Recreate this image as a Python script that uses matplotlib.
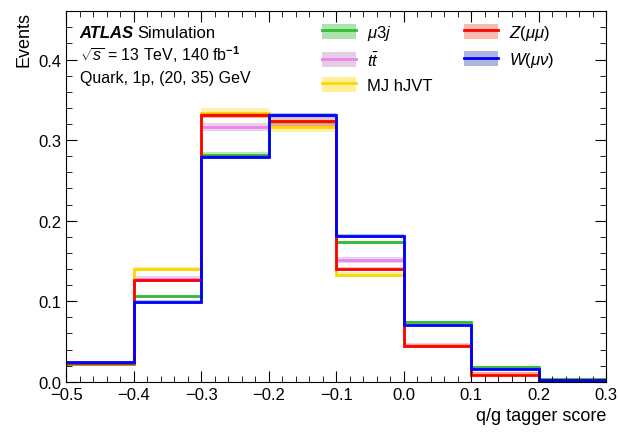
import matplotlib
matplotlib.use("Agg")
import matplotlib.pyplot as plt
import numpy as np
from matplotlib.lines import Line2D
from matplotlib.patches import Patch
from matplotlib.legend_handler import HandlerTuple
from matplotlib.ticker import MultipleLocator

plt.rcParams["font.family"] = ["Liberation Sans", "DejaVu Sans"]
plt.rcParams["mathtext.fontset"] = "custom"
plt.rcParams["mathtext.rm"] = "Liberation Sans"
plt.rcParams["mathtext.it"] = "Liberation Sans:italic"
plt.rcParams["mathtext.bf"] = "Liberation Sans:bold"

# ---- data -------------------------------------------------------------
BIN_EDGES = [-0.5, -0.4, -0.3, -0.2, -0.1, 0.0, 0.1, 0.2, 0.3]

mu3j   = [0.022, 0.106, 0.282, 0.322, 0.173, 0.074, 0.018, 0.004]
ttbar  = [0.023, 0.128, 0.316, 0.319, 0.151, 0.046, 0.011, 0.002]
mj     = [0.023, 0.140, 0.334, 0.316, 0.133, 0.045, 0.010, 0.002]
zmumu  = [0.023, 0.126, 0.331, 0.324, 0.140, 0.045, 0.009, 0.002]
wmunu  = [0.025, 0.099, 0.279, 0.331, 0.181, 0.070, 0.016, 0.002]

mu3j_err  = [0.001, 0.002, 0.003, 0.003, 0.002, 0.001, 0.001, 0.0005]
ttbar_err = [0.001, 0.003, 0.005, 0.005, 0.004, 0.002, 0.001, 0.0005]
mj_err    = [0.001, 0.003, 0.006, 0.006, 0.003, 0.002, 0.001, 0.0005]
zmumu_err = [0.001, 0.002, 0.003, 0.003, 0.002, 0.001, 0.001, 0.0005]
wmunu_err = [0.001, 0.002, 0.003, 0.003, 0.002, 0.001, 0.001, 0.0005]

SAMPLES = [
    (r"$\mu3j$",          mu3j,  mu3j_err,  "#33bb33", "#33bb33"),
    (r"$t\bar{t}$",       ttbar, ttbar_err, "#ee82ee", "#c080c0"),
    ("MJ hJVT",           mj,    mj_err,    "#ffd700", "#ffd700"),
    (r"$Z(\mu\mu)$",      zmumu, zmumu_err, "#ff0000", "#ee5533"),
    (r"$W(\mu\nu)$",      wmunu, wmunu_err, "#0000ff", "#3344aa"),
]

fig = plt.figure(figsize=(6.19, 4.35), dpi=100)
ax = fig.add_axes([0.107, 0.12, 0.872, 0.852])

edges = np.array(BIN_EDGES)
handles, labels = [], []
for label, vals, errs, lc, bc in SAMPLES:
    v = np.array(vals)
    e = np.array(errs)
    ax.stairs(v + e, edges, baseline=v - e, fill=True, color=bc, alpha=0.35, lw=0)
    ax.stairs(v, edges, color=lc, lw=2.0, baseline=None)
    handles.append((Patch(facecolor=bc, alpha=0.4, edgecolor="none"),
                    Line2D([], [], color=lc, lw=2.0)))
    labels.append(label)

ax.set_xlim(-0.5, 0.3)
ax.set_ylim(0, 0.46)
ax.xaxis.set_major_locator(MultipleLocator(0.1))
ax.xaxis.set_minor_locator(MultipleLocator(0.02))
ax.yaxis.set_major_locator(MultipleLocator(0.1))
ax.yaxis.set_minor_locator(MultipleLocator(0.02))
ax.tick_params(which="both", direction="in", top=True, right=True, labelsize=12)
ax.tick_params(which="major", length=8)
ax.tick_params(which="minor", length=4)
ax.set_xticklabels([f"{t:.1f}".replace("-", "\u2212") for t in ax.get_xticks()])
ax.set_xlabel("q/g tagger score", fontsize=13, loc="right")
ax.set_ylabel("Events", fontsize=13, loc="top")

# legend in two columns
leg = ax.legend(handles, labels, ncol=2, loc="upper left",
                bbox_to_anchor=(0.462, 0.986), borderaxespad=0.0,
                frameon=False, fontsize=12, handlelength=2.0,
                handleheight=1.0, handletextpad=0.7,
                columnspacing=1.9, labelspacing=0.5,
                handler_map={tuple: HandlerTuple(ndivide=1)})

ax.text(0.025, 0.93, "ATLAS", transform=ax.transAxes, fontsize=12,
        fontweight="bold", fontstyle="italic")
ax.text(0.132, 0.93, "Simulation", transform=ax.transAxes, fontsize=12)
ax.text(0.025, 0.868, r"$\sqrt{s}$ = 13 TeV, 140 fb$^{\mathbf{-1}}$",
        transform=ax.transAxes, fontsize=11.5)
ax.text(0.025, 0.81, "Quark, 1p, (20, 35) GeV", transform=ax.transAxes,
        fontsize=11.5)

fig.savefig("out.png", dpi=100)
